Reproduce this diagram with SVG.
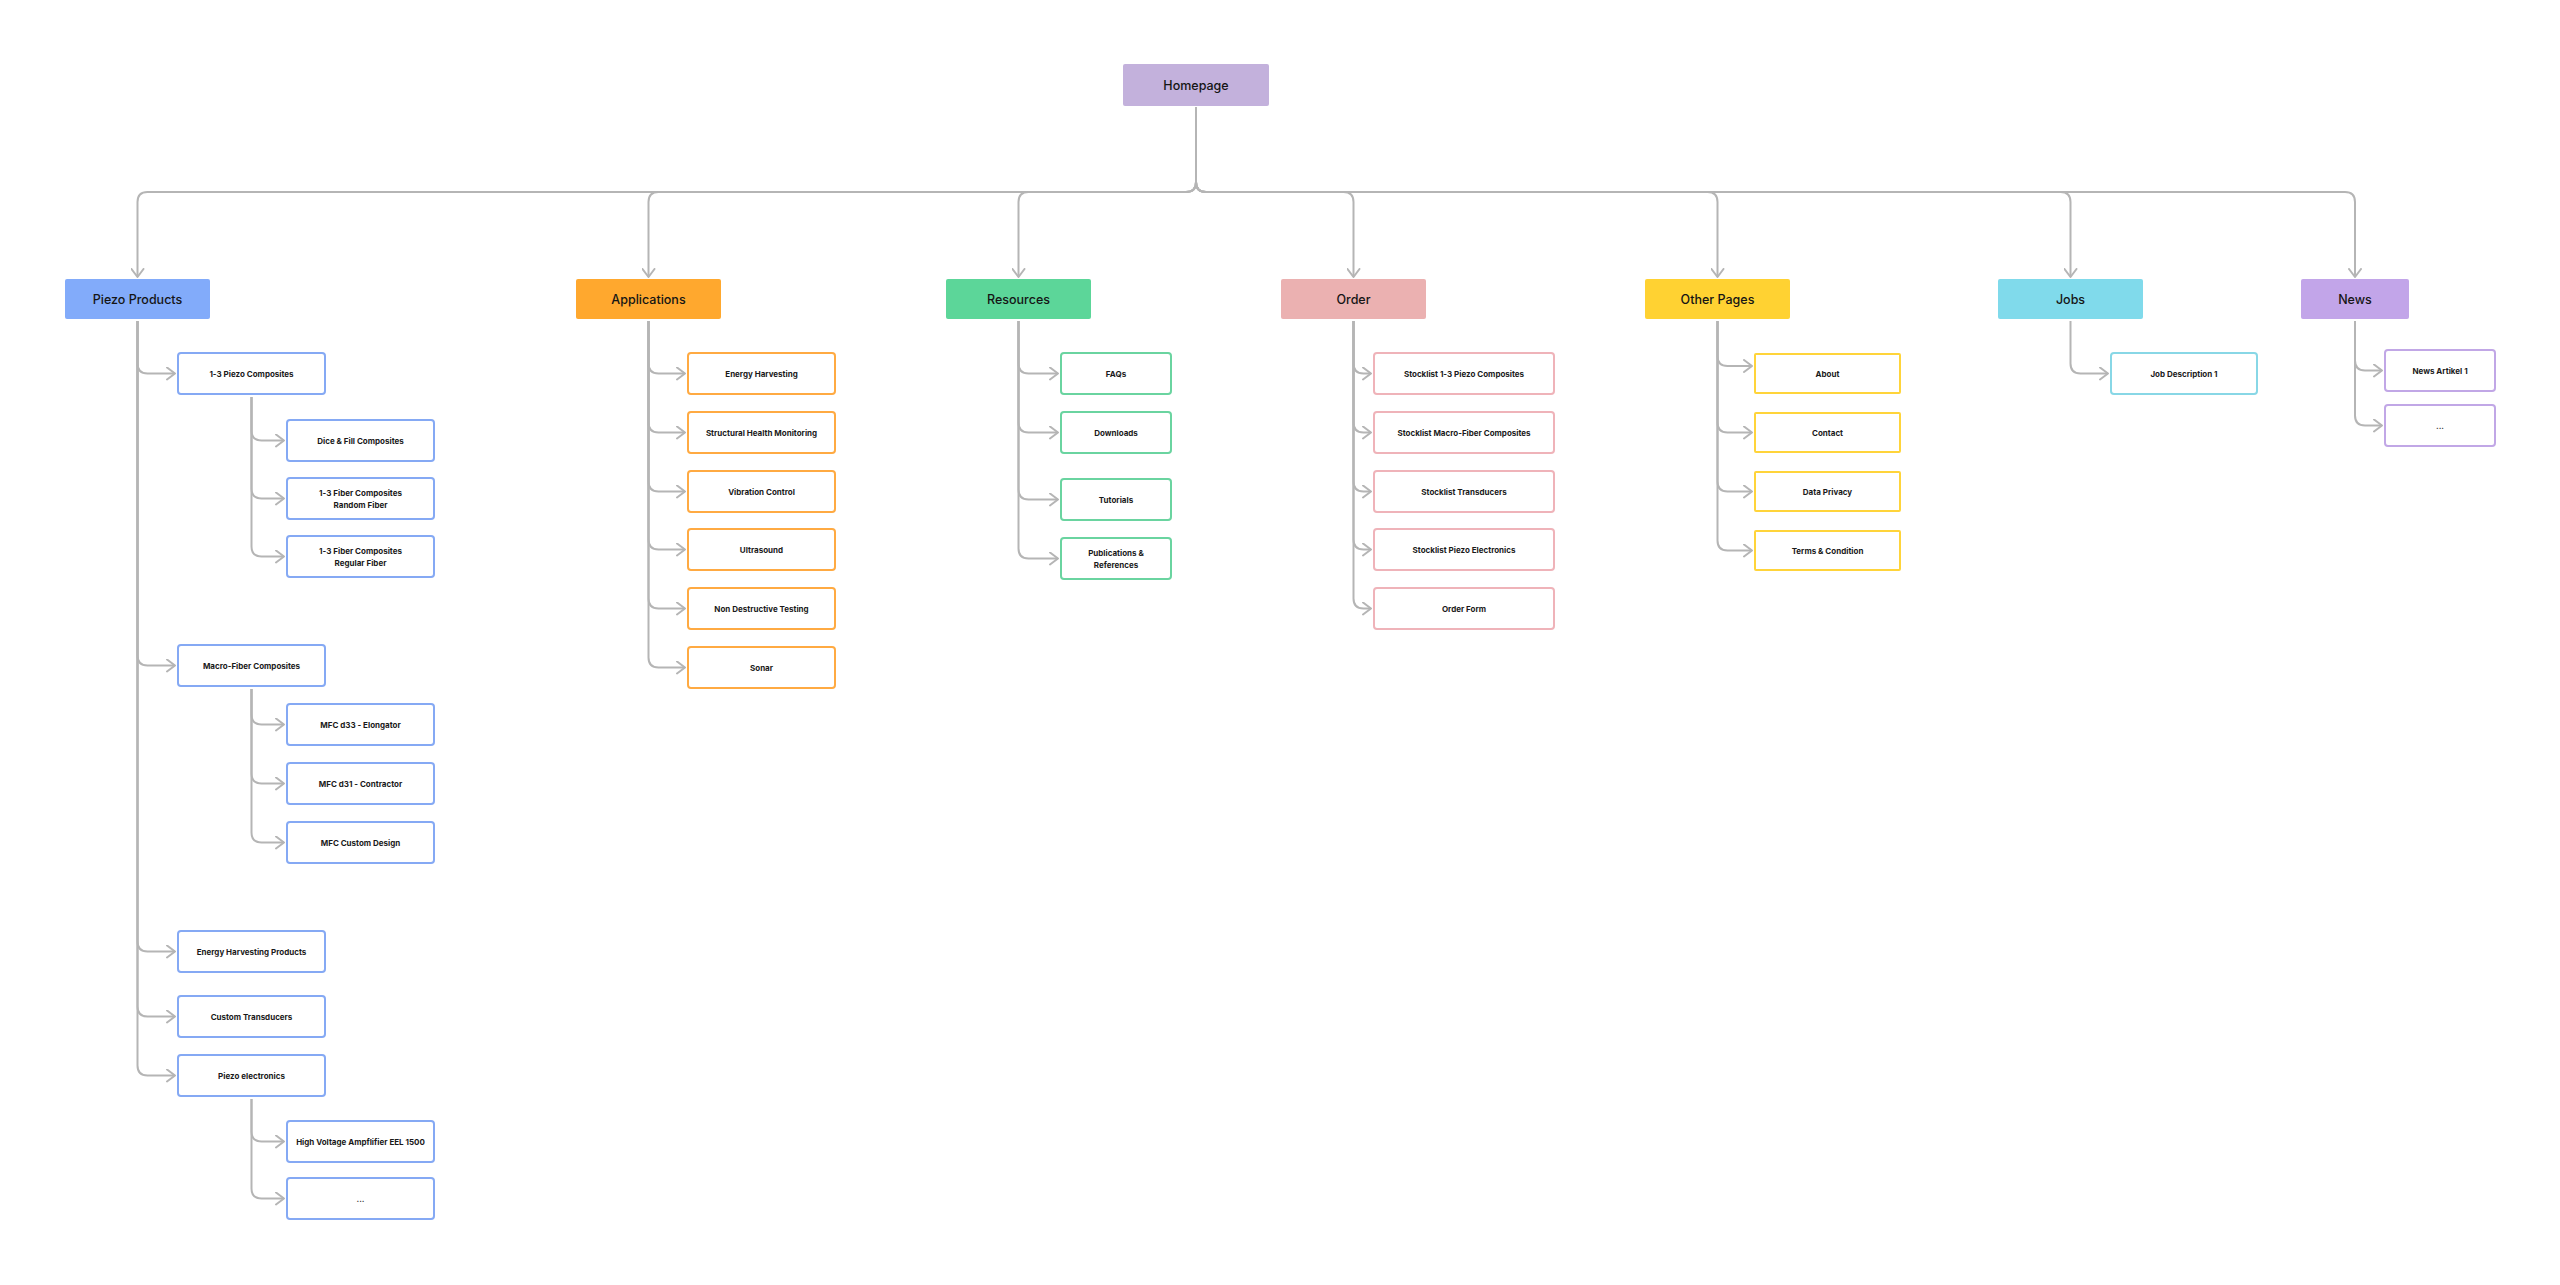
<svg xmlns="http://www.w3.org/2000/svg" width="2560" height="1285" viewBox="0 0 2560 1285">
<style>
.bg{fill:#ffffff}
.tt{font-family:Inter,"Noto Sans","Liberation Sans",sans-serif;font-size:12.5px;font-weight:500;fill:#151515;text-anchor:middle;dominant-baseline:central}
.ct{font-family:Inter,"Noto Sans","Liberation Sans",sans-serif;font-size:8px;font-weight:700;fill:#1a1a1a;text-anchor:middle;dominant-baseline:central}
.c{fill:#ffffff;stroke-width:2}
.blue{stroke:#85a9f4}
.orange{stroke:#ffaa42}
.green{stroke:#6ad4a0}
.pink{stroke:#efb3b9}
.yellow{stroke:#ffd43a}
.cyan{stroke:#88d7e6}
.purple{stroke:#c1a7e6}
.conn path{fill:none;stroke:#b5b5b5;stroke-width:2;marker-end:url(#ah)}
</style>
<defs>
<marker id="ah" viewBox="0 0 10 14" refX="9" refY="7" markerWidth="10" markerHeight="14" markerUnits="userSpaceOnUse" orient="auto">
<path d="M1,1 L9,7 L1,13" fill="none" stroke="#b5b5b5" stroke-width="2" stroke-linecap="round" stroke-linejoin="round"/>
</marker>
</defs>
<rect class="bg" x="0" y="0" width="2560" height="1285"/>

<g id="connectors" class="conn">
<path d="M1196,107 V182 Q1196,192 1186,192 H147.5 Q137.5,192 137.5,202 V277"/>
<path d="M1196,107 V182 Q1196,192 1186,192 H658.5 Q648.5,192 648.5,202 V277"/>
<path d="M1196,107 V182 Q1196,192 1186,192 H1028.5 Q1018.5,192 1018.5,202 V277"/>
<path d="M1196,107 V182 Q1196,192 1206,192 H1343.5 Q1353.5,192 1353.5,202 V277"/>
<path d="M1196,107 V182 Q1196,192 1206,192 H1707.5 Q1717.5,192 1717.5,202 V277"/>
<path d="M1196,107 V182 Q1196,192 1206,192 H2060.5 Q2070.5,192 2070.5,202 V277"/>
<path d="M1196,107 V182 Q1196,192 1206,192 H2345 Q2355,192 2355,202 V277"/>
<path d="M137.5,321 V363.5 Q137.5,373.5 147.5,373.5 H175"/>
<path d="M137.5,321 V655.5 Q137.5,665.5 147.5,665.5 H175"/>
<path d="M137.5,321 V941.5 Q137.5,951.5 147.5,951.5 H175"/>
<path d="M137.5,321 V1006.5 Q137.5,1016.5 147.5,1016.5 H175"/>
<path d="M137.5,321 V1065.5 Q137.5,1075.5 147.5,1075.5 H175"/>
<path d="M251.5,397 V430.5 Q251.5,440.5 261.5,440.5 H284"/>
<path d="M251.5,397 V488.5 Q251.5,498.5 261.5,498.5 H284"/>
<path d="M251.5,397 V546.5 Q251.5,556.5 261.5,556.5 H284"/>
<path d="M251.5,689 V714.5 Q251.5,724.5 261.5,724.5 H284"/>
<path d="M251.5,689 V773.5 Q251.5,783.5 261.5,783.5 H284"/>
<path d="M251.5,689 V832.5 Q251.5,842.5 261.5,842.5 H284"/>
<path d="M251.5,1099 V1131.5 Q251.5,1141.5 261.5,1141.5 H284"/>
<path d="M251.5,1099 V1188.5 Q251.5,1198.5 261.5,1198.5 H284"/>
<path d="M648.5,321 V363.5 Q648.5,373.5 658.5,373.5 H685"/>
<path d="M648.5,321 V422.5 Q648.5,432.5 658.5,432.5 H685"/>
<path d="M648.5,321 V481.5 Q648.5,491.5 658.5,491.5 H685"/>
<path d="M648.5,321 V539.5 Q648.5,549.5 658.5,549.5 H685"/>
<path d="M648.5,321 V598.5 Q648.5,608.5 658.5,608.5 H685"/>
<path d="M648.5,321 V657.5 Q648.5,667.5 658.5,667.5 H685"/>
<path d="M1018.5,321 V363.5 Q1018.5,373.5 1028.5,373.5 H1058"/>
<path d="M1018.5,321 V422.5 Q1018.5,432.5 1028.5,432.5 H1058"/>
<path d="M1018.5,321 V489.5 Q1018.5,499.5 1028.5,499.5 H1058"/>
<path d="M1018.5,321 V548.5 Q1018.5,558.5 1028.5,558.5 H1058"/>
<path d="M1353.5,321 V363.5 Q1353.5,373.5 1363.5,373.5 H1371"/>
<path d="M1353.5,321 V422.5 Q1353.5,432.5 1363.5,432.5 H1371"/>
<path d="M1353.5,321 V481.5 Q1353.5,491.5 1363.5,491.5 H1371"/>
<path d="M1353.5,321 V539.5 Q1353.5,549.5 1363.5,549.5 H1371"/>
<path d="M1353.5,321 V598.5 Q1353.5,608.5 1363.5,608.5 H1371"/>
<path d="M1717.5,321 V356 Q1717.5,366 1727.5,366 H1752"/>
<path d="M1717.5,321 V422.5 Q1717.5,432.5 1727.5,432.5 H1752"/>
<path d="M1717.5,321 V481.5 Q1717.5,491.5 1727.5,491.5 H1752"/>
<path d="M1717.5,321 V540.5 Q1717.5,550.5 1727.5,550.5 H1752"/>
<path d="M2070.5,321 V363.5 Q2070.5,373.5 2080.5,373.5 H2108"/>
<path d="M2355,321 V360.5 Q2355,370.5 2365,370.5 H2382"/>
<path d="M2355,321 V415.5 Q2355,425.5 2365,425.5 H2382"/>
</g>

<g id="homepage"><rect x="1123" y="64" width="146" height="42" rx="2" fill="#c3b1dc"/><text class="tt" x="1196" y="85">Homepage</text></g>

<g id="piezo-products"><rect x="65" y="279" width="145" height="40" rx="2" fill="#82abfa"/><text class="tt" x="137.5" y="299">Piezo Products</text></g>
<g id="applications"><rect x="576" y="279" width="145" height="40" rx="2" fill="#ffa82e"/><text class="tt" x="648.5" y="299">Applications</text></g>
<g id="resources"><rect x="946" y="279" width="145" height="40" rx="2" fill="#5cd699"/><text class="tt" x="1018.5" y="299">Resources</text></g>
<g id="order"><rect x="1281" y="279" width="145" height="40" rx="2" fill="#ebb1b1"/><text class="tt" x="1353.5" y="299">Order</text></g>
<g id="other-pages"><rect x="1645" y="279" width="145" height="40" rx="2" fill="#ffd232"/><text class="tt" x="1717.5" y="299">Other Pages</text></g>
<g id="jobs"><rect x="1998" y="279" width="145" height="40" rx="2" fill="#80daeb"/><text class="tt" x="2070.5" y="299">Jobs</text></g>
<g id="news"><rect x="2301" y="279" width="108" height="40" rx="2" fill="#c2a5e9"/><text class="tt" x="2355" y="299">News</text></g>

<g id="p-13-piezo"><rect class="c blue" x="178" y="353" width="147" height="41" rx="3"/><text class="ct" x="251.5" y="373.5">1-3 Piezo Composites</text></g>
<g id="p-dice"><rect class="c blue" x="287" y="420" width="147" height="41" rx="3"/><text class="ct" x="360.5" y="440.5">Dice &amp; Fill Composites</text></g>
<g id="p-random"><rect class="c blue" x="287" y="478" width="147" height="41" rx="3"/><text class="ct" x="360.5" y="492.5">1-3 Fiber Composites</text><text class="ct" x="360.5" y="504.5">Random Fiber</text></g>
<g id="p-regular"><rect class="c blue" x="287" y="536" width="147" height="41" rx="3"/><text class="ct" x="360.5" y="550.5">1-3 Fiber Composites</text><text class="ct" x="360.5" y="562.5">Regular Fiber</text></g>
<g id="p-macro"><rect class="c blue" x="178" y="645" width="147" height="41" rx="3"/><text class="ct" x="251.5" y="665.5">Macro-Fiber Composites</text></g>
<g id="p-d33"><rect class="c blue" x="287" y="704" width="147" height="41" rx="3"/><text class="ct" x="360.5" y="724.5">MFC d33 - Elongator</text></g>
<g id="p-d31"><rect class="c blue" x="287" y="763" width="147" height="41" rx="3"/><text class="ct" x="360.5" y="783.5">MFC d31 - Contractor</text></g>
<g id="p-custom-design"><rect class="c blue" x="287" y="822" width="147" height="41" rx="3"/><text class="ct" x="360.5" y="842.5">MFC Custom Design</text></g>
<g id="p-ehp"><rect class="c blue" x="178" y="931" width="147" height="41" rx="3"/><text class="ct" x="251.5" y="951.5">Energy Harvesting Products</text></g>
<g id="p-ct"><rect class="c blue" x="178" y="996" width="147" height="41" rx="3"/><text class="ct" x="251.5" y="1016.5">Custom Transducers</text></g>
<g id="p-pe"><rect class="c blue" x="178" y="1055" width="147" height="41" rx="3"/><text class="ct" x="251.5" y="1075.5">Piezo electronics</text></g>
<g id="p-hv"><rect class="c blue" x="287" y="1121" width="147" height="41" rx="3"/><text class="ct" x="360.5" y="1141.5">High Voltage Ampflifier EEL 1500</text></g>
<g id="p-more"><rect class="c blue" x="287" y="1178" width="147" height="41" rx="3"/><text class="ct" x="360.5" y="1198.5">...</text></g>

<g id="a-eh"><rect class="c orange" x="688" y="353" width="147" height="41" rx="3"/><text class="ct" x="761.5" y="373.5">Energy Harvesting</text></g>
<g id="a-shm"><rect class="c orange" x="688" y="412" width="147" height="41" rx="3"/><text class="ct" x="761.5" y="432.5">Structural Health Monitoring</text></g>
<g id="a-vc"><rect class="c orange" x="688" y="471" width="147" height="41" rx="3"/><text class="ct" x="761.5" y="491.5">Vibration Control</text></g>
<g id="a-us"><rect class="c orange" x="688" y="529" width="147" height="41" rx="3"/><text class="ct" x="761.5" y="549.5">Ultrasound</text></g>
<g id="a-ndt"><rect class="c orange" x="688" y="588" width="147" height="41" rx="3"/><text class="ct" x="761.5" y="608.5">Non Destructive Testing</text></g>
<g id="a-sonar"><rect class="c orange" x="688" y="647" width="147" height="41" rx="3"/><text class="ct" x="761.5" y="667.5">Sonar</text></g>

<g id="r-faq"><rect class="c green" x="1061" y="353" width="110" height="41" rx="3"/><text class="ct" x="1116" y="373.5">FAQs</text></g>
<g id="r-dl"><rect class="c green" x="1061" y="412" width="110" height="41" rx="3"/><text class="ct" x="1116" y="432.5">Downloads</text></g>
<g id="r-tut"><rect class="c green" x="1061" y="479" width="110" height="41" rx="3"/><text class="ct" x="1116" y="499.5">Tutorials</text></g>
<g id="r-pub"><rect class="c green" x="1061" y="538" width="110" height="41" rx="3"/><text class="ct" x="1116" y="552.5">Publications &amp;</text><text class="ct" x="1116" y="564.5">References</text></g>

<g id="o-s13"><rect class="c pink" x="1374" y="353" width="180" height="41" rx="3"/><text class="ct" x="1464" y="373.5">Stocklist 1-3 Piezo Composites</text></g>
<g id="o-smfc"><rect class="c pink" x="1374" y="412" width="180" height="41" rx="3"/><text class="ct" x="1464" y="432.5">Stocklist Macro-Fiber Composites</text></g>
<g id="o-st"><rect class="c pink" x="1374" y="471" width="180" height="41" rx="3"/><text class="ct" x="1464" y="491.5">Stocklist Transducers</text></g>
<g id="o-spe"><rect class="c pink" x="1374" y="529" width="180" height="41" rx="3"/><text class="ct" x="1464" y="549.5">Stocklist Piezo Electronics</text></g>
<g id="o-form"><rect class="c pink" x="1374" y="588" width="180" height="41" rx="3"/><text class="ct" x="1464" y="608.5">Order Form</text></g>

<g id="op-about"><rect class="c yellow" x="1755" y="354" width="145" height="39" rx="1"/><text class="ct" x="1827.5" y="373.5">About</text></g>
<g id="op-contact"><rect class="c yellow" x="1755" y="413" width="145" height="39" rx="1"/><text class="ct" x="1827.5" y="432.5">Contact</text></g>
<g id="op-privacy"><rect class="c yellow" x="1755" y="472" width="145" height="39" rx="1"/><text class="ct" x="1827.5" y="491.5">Data Privacy</text></g>
<g id="op-terms"><rect class="c yellow" x="1755" y="531" width="145" height="39" rx="1"/><text class="ct" x="1827.5" y="550.5">Terms &amp; Condition</text></g>

<g id="j-1"><rect class="c cyan" x="2111" y="353" width="146" height="41" rx="3"/><text class="ct" x="2184" y="373.5">Job Description 1</text></g>

<g id="n-1"><rect class="c purple" x="2385" y="350" width="110" height="41" rx="3"/><text class="ct" x="2440" y="370.5">News Artikel 1</text></g>
<g id="n-more"><rect class="c purple" x="2385" y="405" width="110" height="41" rx="3"/><text class="ct" x="2440" y="425.5">...</text></g>
</svg>
